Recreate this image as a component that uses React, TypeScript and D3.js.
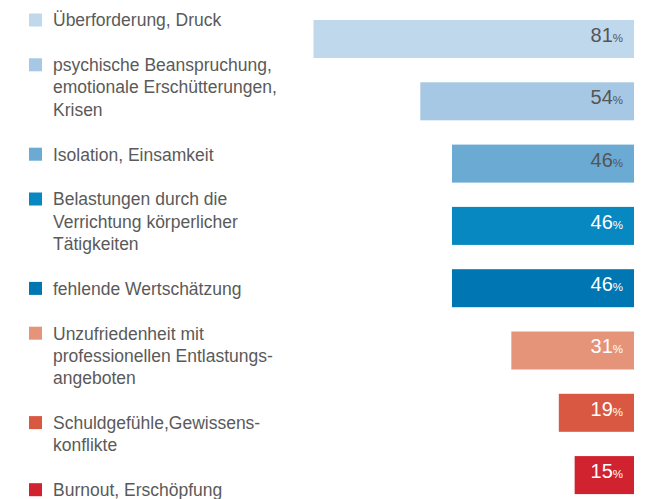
import React from "react";
import * as d3 from "d3";

const categories: string[][] = [
  ["Überforderung, Druck"],
  ["psychische Beanspruchung,", "emotionale Erschütterungen,", "Krisen"],
  ["Isolation, Einsamkeit"],
  ["Belastungen durch die", "Verrichtung körperlicher", "Tätigkeiten"],
  ["fehlende Wertschätzung"],
  ["Unzufriedenheit mit", "professionellen Entlastungs-", "angeboten"],
  ["Schuldgefühle,Gewissens-", "konflikte"],
  ["Burnout, Erschöpfung"],
];
const values: number[] = [81, 54, 46, 46, 46, 31, 19, 15];
const colors: string[] = [
  "#c0d8ec",
  "#a6c8e4",
  "#6aaad3",
  "#0788c1",
  "#0076b3",
  "#e69479",
  "#d95841",
  "#d1222f",
];
const labelColors: string[] = ["#555555", "#555555", "#555555", "#ffffff", "#ffffff", "#ffffff", "#ffffff", "#ffffff"];

const W = 652;
const H = 499;
const FONT = "'Liberation Sans', Arial, sans-serif";

export default function App() {
  const idx = d3.range(values.length);
  const y = d3.scaleBand<number>().domain(idx).range([20, 494.1]).paddingInner(0.39).paddingOuter(0);
  const barRight = 634;
  const w = d3.scaleLinear().domain([0, 100]).range([0, 395.7]);

  const lineH = 22.3;
  const gap = 22.5;
  const firstCenters: number[] = [];
  let c = 20;
  categories.forEach((lines) => {
    firstCenters.push(c);
    c += lines.length * lineH + gap;
  });

  return (
    <svg width={W} height={H} style={{ position: "absolute", left: 0, top: 0, background: "#fff" }} fontFamily={FONT}>
      {categories.map((lines, i) => (
        <g key={"lg" + i}>
          <rect x={29} y={firstCenters[i] - 6.5} width={13} height={13} fill={colors[i]} />
          <text x={53} fill="#5a5a5a" fontSize={17.5}>
            {lines.map((l, j) => (
              <tspan key={j} x={53} y={firstCenters[i] + j * lineH + 6.3}>
                {l}
              </tspan>
            ))}
          </text>
        </g>
      ))}
      {idx.map((i) => {
        const bw = w(values[i]);
        const top = y(i) as number;
        return (
          <g key={"b" + i}>
            <rect x={barRight - bw} y={top} width={bw} height={y.bandwidth()} fill={colors[i]} />
            <text x={623} y={top + 22} textAnchor="end" fill={labelColors[i]}>
              <tspan fontSize={20}>{values[i]}</tspan>
              <tspan fontSize={11.5}>%</tspan>
            </text>
          </g>
        );
      })}
    </svg>
  );
}
